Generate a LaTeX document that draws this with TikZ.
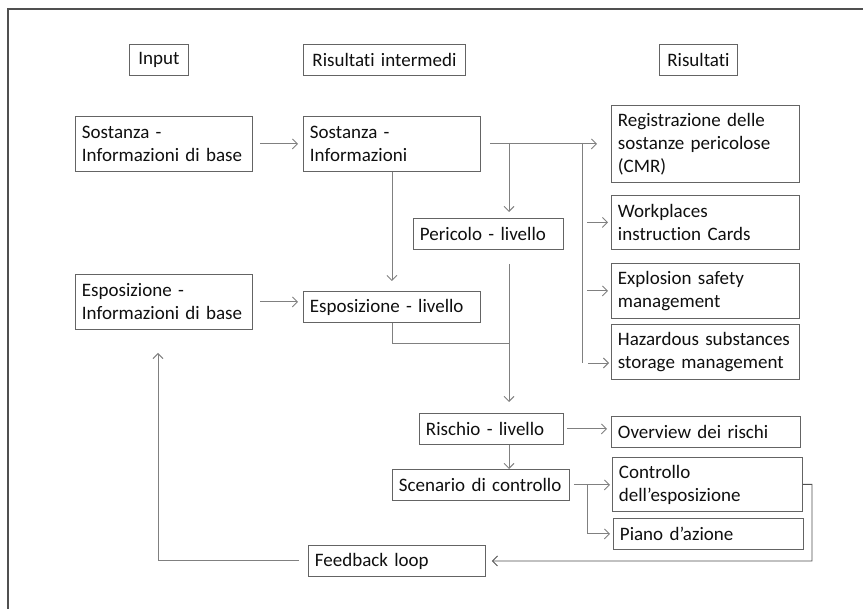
\documentclass[tikz,border=0pt]{standalone}
\usepackage{fontspec}
\setmainfont{Carlito}[Ligatures=NoCommon]
\usetikzlibrary{arrows.meta,positioning,calc}

\definecolor{linegray}{RGB}{128,128,128}
\definecolor{boxgray}{RGB}{100,100,100}
\definecolor{framegray}{RGB}{80,80,80}
\definecolor{txt}{RGB}{15,15,15}

\tikzset{
  box/.style={draw=boxgray, line width=0.9pt, anchor=north west, align=left,
    inner xsep=6.5pt, inner ysep=0pt, text=txt, font=\fontsize{19}{23}\selectfont},
  head/.style={box, align=center},
  conn/.style={draw=linegray, line width=0.9pt},
}

\begin{document}
\begin{tikzpicture}[x=1pt, y=-1pt, >={Straight Barb[length=5pt,width=10pt]}]
\useasboundingbox (0,0) rectangle (863,609);
\draw[framegray, line width=1.2pt] (8,609) -- (8,9) -- (863,9);

% column heads
\node[head, text width=46pt, minimum height=31pt] (inp) at (129,44) {Input};
\node[head, text width=149pt, minimum height=31pt] (rint) at (303,44) {Risultati intermedi};
\node[head, text width=65pt, minimum height=31pt] (ris) at (659,44) {Risultati};

% input
\node[box, text width=164pt, minimum height=55pt] (sostbase) at (75,116) {Sostanza -\\Informazioni di base};
\node[box, text width=164pt, minimum height=55pt] (espobase) at (75,274) {Esposizione -\\Informazioni di base};

% intermediate
\node[box, text width=164pt, minimum height=55pt] (sostinfo) at (303,116) {Sostanza -\\Informazioni};
\node[box, text width=137pt, minimum height=31pt] (pericolo) at (413,218) {Pericolo - livello};
\node[box, text width=164pt, minimum height=31pt] (espoliv) at (303,291) {Esposizione - livello};
\node[box, text width=131pt, minimum height=31pt] (rischio) at (419,413) {Rischio - livello};
\node[box, text width=164pt, minimum height=31pt] (scenario) at (392,469) {Scenario di controllo};
\node[box, text width=164pt, minimum height=31pt] (feedback) at (308,545) {Feedback loop};

% results
\node[box, text width=175pt, minimum height=77pt] (reg) at (611,105) {Registrazione delle\\sostanze pericolose\\(CMR)};
\node[box, text width=175pt, minimum height=54pt] (work) at (611,195) {Workplaces\\instruction Cards};
\node[box, text width=175pt, minimum height=55pt] (expl) at (611,263) {Explosion safety\\management};
\node[box, text width=175pt, minimum height=55pt] (haz) at (611,324) {Hazardous substances\\storage management};
\node[box, text width=176pt, minimum height=31pt] (overview) at (611,416) {Overview dei rischi};
\node[box, text width=177pt, minimum height=54pt] (controllo) at (612,457) {Controllo\\dell’esposizione};
\node[box, text width=177pt, minimum height=31pt] (piano) at (613,518) {Piano d’azione};

% junctions
\coordinate (br1) at (509,143);
\coordinate (bus) at (582,143);
\coordinate (busend) at (582,363);
\coordinate (join) at (509,343);
\coordinate (br2) at (587,485);
\coordinate (fbcorner) at (812,561);
\coordinate (fbup) at (158,353);

% connectors
\draw[conn,->,shorten <=7pt,shorten >=5pt] (sostbase) -- (sostinfo);
\draw[conn,->,shorten <=7pt,shorten >=5pt] (espobase.east) -- (espobase.east -| espoliv.west);
\draw[conn,->,shorten >=10pt] (sostinfo) -- (espoliv);
\draw[conn,->,shorten <=9pt,shorten >=14pt] (sostinfo.east) -- (reg.west);
\draw[conn,->,shorten >=6pt] (br1) -- (br1 |- pericolo.north);
\draw[conn] (bus) -- (busend);
\foreach \n in {work,expl}
  \draw[conn,->,shorten <=5pt,shorten >=3pt] (bus |- \n.west) -- (\n.west);
\draw[conn,->,shorten <=6pt,shorten >=2pt] (busend) -- (busend -| haz.west);
\draw[conn] (espoliv.south) |- (join);
\draw[conn,->,shorten <=14pt,shorten >=11pt] (br1 |- pericolo.south) -- (br1 |- rischio.north);
\draw[conn,->,shorten <=3pt,shorten >=4pt] (rischio.east) -- (rischio.east -| overview.west);
\draw[conn,->] (br1 |- rischio.south) -- (br1 |- scenario.north);
\draw[conn,->,shorten <=4pt,shorten >=2pt] (scenario.east) -- (scenario.east -| controllo.west);
\draw[conn,->,shorten >=3pt] (br2) |- (piano.west);
\draw[conn,draw=framegray,->,shorten >=6pt] (controllo.east) -| (fbcorner) -- (feedback.east);
\draw[conn,->,shorten <=9pt] (feedback.west) -| (fbup);
\end{tikzpicture}
\end{document}
